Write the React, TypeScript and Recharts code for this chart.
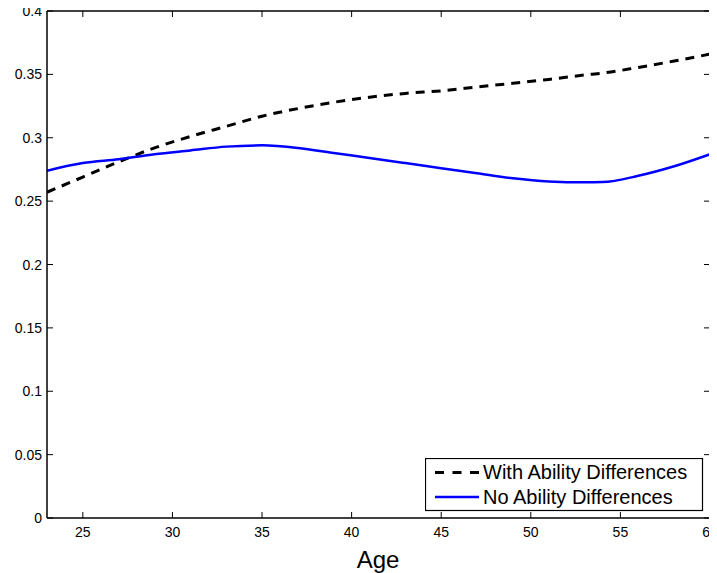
import React from "react";
import { LineChart, Line, XAxis, YAxis, ReferenceLine, Legend } from "recharts";

const ages = [23, 25, 27, 29, 31, 33, 35, 37, 39, 41, 43, 45, 47, 49, 51, 53, 54, 56, 58, 60];
const withAbility = [0.257, 0.269, 0.281, 0.292, 0.301, 0.309, 0.317, 0.323, 0.328, 0.332, 0.335, 0.337, 0.340, 0.343, 0.346, 0.3495, 0.351, 0.3555, 0.3605, 0.366];
const noAbility = [0.274, 0.280, 0.283, 0.287, 0.290, 0.293, 0.294, 0.292, 0.288, 0.284, 0.280, 0.276, 0.272, 0.268, 0.2655, 0.2648, 0.265, 0.270, 0.2775, 0.287];
const xTicks = [25, 30, 35, 40, 45, 50, 55, 60];
const yTicks = [0, 0.05, 0.1, 0.15, 0.2, 0.25, 0.3, 0.35, 0.4];
const seriesNames = ["With Ability Differences", "No Ability Differences"];
const xLabel = "Age";

const data = ages.map((a, i) => ({ age: a, withA: withAbility[i], noA: noAbility[i] }));

const W = 709;
const H = 573;
const PL = 39;
const PR = 702;
const PT = 11;
const PB = 518;
const FONT = "'Liberation Sans', Arial, Helvetica, sans-serif";

const XTick = (props: any) => {
  const { x, payload } = props;
  return (
    <g>
      <line x1={x} x2={x} y1={PB} y2={PB - 6} stroke="#000" strokeWidth={1} />
      <line x1={x} x2={x} y1={PT} y2={PT + 6} stroke="#000" strokeWidth={1} />
      <text x={x} y={PB + 9} dy="0.71em" textAnchor="middle" fontSize={14} fill="#000" fontFamily={FONT}>
        {String(payload.value)}
      </text>
    </g>
  );
};

const YTick = (props: any) => {
  const { y, payload } = props;
  return (
    <g>
      <line x1={PL} x2={PL + 6} y1={y} y2={y} stroke="#000" strokeWidth={1} />
      <line x1={PR} x2={PR - 6} y1={y} y2={y} stroke="#000" strokeWidth={1} />
      <text x={34} y={y} dy="0.36em" textAnchor="end" fontSize={14} fill="#000" fontFamily={FONT}>
        {String(payload.value)}
      </text>
    </g>
  );
};

const LegendBox = () => (
  <svg width={279} height={54} style={{ display: "block" }}>
    <rect x={0.5} y={0.5} width={277} height={52} fill="#fff" stroke="#000" strokeWidth={1.2} />
    <line x1={10} x2={54} y1={14.5} y2={14.5} stroke="#000" strokeWidth={3} strokeDasharray="9 8.5" />
    <text x={58} y={14} dy="0.35em" fontSize={20} fill="#000" fontFamily={FONT}>{seriesNames[0]}</text>
    <line x1={10} x2={54} y1={39} y2={39} stroke="#0000ff" strokeWidth={2.5} />
    <text x={58} y={39} dy="0.35em" fontSize={20} fill="#000" fontFamily={FONT}>{seriesNames[1]}</text>
  </svg>
);

export default function App() {
  return (
    <div style={{ width: W, height: H, fontFamily: FONT, background: "#fff", marginTop: -8 }}>
      <LineChart
        width={W}
        height={H}
        data={data}
        margin={{ top: PT, right: W - PR, bottom: 0, left: 0 }}
      >
        <XAxis
          dataKey="age"
          type="number"
          domain={[23, 60]}
          ticks={xTicks}
          allowDataOverflow
          height={H - PB}
          tickLine={false}
          tick={<XTick />}
          axisLine={{ stroke: "#000", strokeWidth: 1.5 }}
          interval={0}
        />
        <YAxis
          type="number"
          domain={[0, 0.4]}
          ticks={yTicks}
          allowDataOverflow
          width={PL}
          tickLine={false}
          tick={<YTick />}
          axisLine={{ stroke: "#000", strokeWidth: 1.5 }}
          interval={0}
        />
        <ReferenceLine y={0.4} stroke="#000" strokeWidth={1.5} ifOverflow="visible" />
        <ReferenceLine x={60} stroke="#000" strokeWidth={1.5} ifOverflow="visible" />
        <Line
          type="monotone"
          dataKey="withA"
          stroke="#000"
          strokeWidth={3}
          strokeDasharray="9 7"
          dot={false}
          isAnimationActive={false}
        />
        <Line
          type="monotone"
          dataKey="noA"
          stroke="#0000ff"
          strokeWidth={2.5}
          dot={false}
          isAnimationActive={false}
        />
        <Legend
          layout="vertical"
          align="center"
          verticalAlign="middle"
          content={<LegendBox />}
          wrapperStyle={{ position: "absolute", left: 417, top: 458, width: 279, height: 54, margin: 0, padding: 0 }}
        />
        <text x={370} y={560} dy="0.35em" textAnchor="middle" fontSize={24} fill="#000" fontFamily={FONT}>
          {xLabel}
        </text>
      </LineChart>
    </div>
  );
}
